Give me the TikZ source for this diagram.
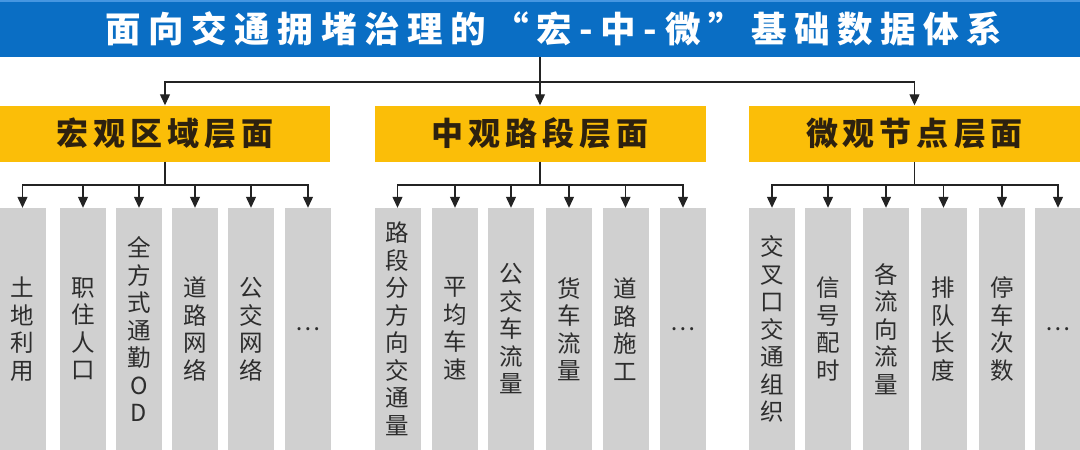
\documentclass[tikz,border=0pt]{standalone}
\usepackage{fontspec}
\newfontfamily\cjk{Noto Sans CJK SC}
\usetikzlibrary{arrows.meta}
\definecolor{titleblue}{RGB}{10,110,196}
\definecolor{titlelight}{RGB}{70,150,225}
\definecolor{gold}{RGB}{251,190,8}
\definecolor{levtext}{RGB}{45,33,15}
\definecolor{colgrey}{RGB}{208,208,208}
\definecolor{coltext}{RGB}{45,45,45}
\definecolor{linec}{RGB}{35,35,35}
\makeatletter
\newcommand\spacedtext[2]{\def\spc@gap{#2}\@tfor\spc@c:=#1\do{\spc@c\kern\spc@gap}\unkern}
\makeatother
\begin{document}
\begin{tikzpicture}[x=1pt,y=-1pt,
  titlebar/.style={fill=titleblue, minimum width=1080pt, minimum height=57pt, inner sep=0pt, text=white, font=\cjk\bfseries\fontsize{35.5}{40}\selectfont},
  levelbox/.style={fill=gold, minimum width=331pt, minimum height=56pt, inner sep=0pt, text=levtext, font=\cjk\bfseries\fontsize{32}{36}\selectfont},
  colbox/.style={fill=colgrey, minimum width=46pt, minimum height=242pt, inner sep=0pt, align=center, text=coltext, font=\cjk\fontsize{23.5}{27.5}\selectfont},
  link/.style={draw=linec, line width=1.2pt},
  arr/.style={link, -{Triangle[width=10pt,length=11pt]}}
]
\useasboundingbox (0,0) rectangle (1080,450);
% title
\node[titlebar] (title) at (540,28.5) {\hspace*{28pt}\spacedtext{面向交通拥堵治理的“宏-中-微”基础数据体系}{7.6pt}};
\fill[titlelight] (title.north west) rectangle ([yshift=-2pt]title.north east);
% level boxes
\node[levelbox, minimum width=330pt] (m1) at (165,133.5) {\spacedtext{宏观区域层面}{5pt}};
\node[levelbox] (m2) at (540,133.5) {\spacedtext{中观路段层面}{5pt}};
\node[levelbox] (m3) at (914.5,133.5) {\spacedtext{微观节点层面}{5pt}};
\coordinate (tb) at (540,82);
\draw[link] (title.south) -- (tb);
\draw[arr] (tb) -| (m1.north);
\draw[arr] (tb) -- (m2.north);
\draw[arr] (tb) -| (m3.north);
% columns group 1
\node[colbox] (c11) at (22.5,329) {土\\地\\利\\用};
\node[colbox] (c12) at (83,329) {职\\住\\人\\口};
\node[colbox] (c13) at (139,329) {全\\方\\式\\通\\勤\\O\\D};
\node[colbox] (c14) at (195,329) {道\\路\\网\\络};
\node[colbox] (c15) at (251,329) {公\\交\\网\\络};
\node[colbox] (c16) at (308,329) {…};
% columns group 2
\node[colbox] (c21) at (397.5,329) {路\\段\\分\\方\\向\\交\\通\\量};
\node[colbox] (c22) at (455,329) {平\\均\\车\\速};
\node[colbox] (c23) at (511,329) {公\\交\\车\\流\\量};
\node[colbox] (c24) at (569,329) {货\\车\\流\\量};
\node[colbox] (c25) at (625.5,329) {道\\路\\施\\工};
\node[colbox] (c26) at (683,329) {…};
% columns group 3
\node[colbox] (c31) at (772,329) {交\\叉\\口\\交\\通\\组\\织};
\node[colbox] (c32) at (828,329) {信\\号\\配\\时};
\node[colbox] (c33) at (886,329) {各\\流\\向\\流\\量};
\node[colbox] (c34) at (943.5,329) {排\\队\\长\\度};
\node[colbox] (c35) at (1002,329) {停\\车\\次\\数};
\node[colbox] (c36) at (1058,329) {…};
% child buses
\coordinate (b1) at (m1.south |- 0,185);
\coordinate (b2) at (m2.south |- 0,185);
\coordinate (b3) at (m3.south |- 0,185);
\draw[link] (m1.south) -- (b1);
\draw[link] (m2.south) -- (b2);
\draw[link] (m3.south) -- (b3);
\foreach \c in {c11,c12,c13,c14,c15,c16} \draw[arr] (b1) -| (\c.north);
\foreach \c in {c21,c22,c23,c24,c25,c26} \draw[arr] (b2) -| (\c.north);
\foreach \c in {c31,c32,c33,c34,c35,c36} \draw[arr] (b3) -| (\c.north);
\end{tikzpicture}
\end{document}
